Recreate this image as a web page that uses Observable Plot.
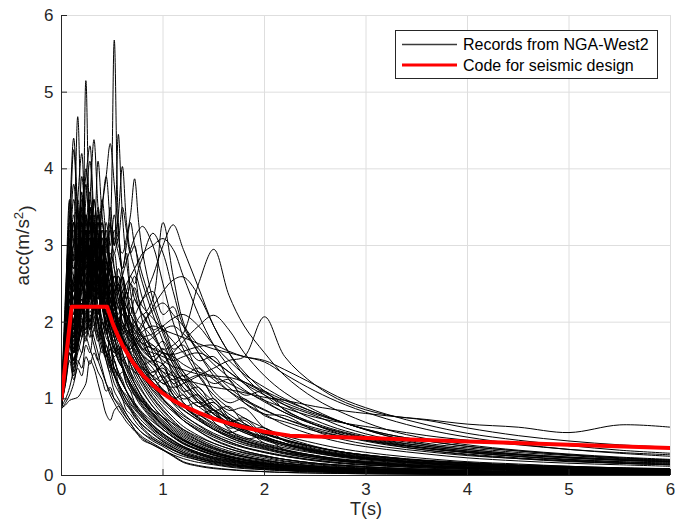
<!DOCTYPE html>
<html><head><meta charset="utf-8">
<script src="https://cdn.jsdelivr.net/npm/d3@7"></script>
<script src="https://cdn.jsdelivr.net/npm/@observablehq/plot@0.6"></script>
<style>
body{margin:0;background:#fff;}
#wrap{position:relative;width:675px;height:527px;}
#legend{position:absolute;left:395px;top:30px;}
</style></head>
<body><div id="wrap"></div>
<script>
const ticks = [0, 1, 2, 3, 4, 5, 6];
const periods = [0,0.04,0.08,0.12,0.16,0.2,0.24,0.28,0.32,0.36,
 0.4,0.44,0.48,0.52,0.56,0.6,0.64,0.68,0.72,0.76,
 0.8,0.9,1.0,1.1,1.2,1.35,1.5,1.65,1.8,2.0,
 2.2,2.5,2.8,3.2,3.6,4.0,4.5,5.0,5.5,6.0];

const codeT   = [0, 0.1, 0.45, 0.5, 0.55, 0.6, 0.7, 0.8, 0.9, 1.0, 1.1, 1.2, 1.35, 1.5, 1.65, 1.8, 2.0, 2.25, 3, 4, 5, 6];
const codeAcc = [1.0, 2.2, 2.2, 2.0, 1.84, 1.70, 1.48, 1.31, 1.18, 1.07, 0.98, 0.91, 0.82, 0.74, 0.68, 0.63, 0.57, 0.52, 0.49, 0.445, 0.40, 0.36];

const rec01 = [0.95,1.8,2.4,2.0,2.3,2.1,2.6,2.3,2.9,2.5, 3.0,2.7,3.2,5.68,3.3,2.6,2.3,2.0,1.75,1.6, 1.45,1.2,1.0,0.85,0.72,0.58,0.46,0.38,0.32,0.26, 0.21,0.16,0.13,0.1,0.08,0.065,0.05,0.04,0.035,0.03];
const rec02 = [0.9,2.0,2.9,2.8,3.4,3.0,5.15,3.3,2.9,3.4, 2.6,2.2,1.9,1.6,1.7,1.4,1.2,1.1,0.95,0.85, 0.78,0.62,0.5,0.42,0.36,0.28,0.22,0.18,0.15,0.12, 0.1,0.08,0.06,0.045,0.035,0.03,0.025,0.02,0.018,0.015];
const rec03 = [0.92,1.6,2.6,3.1,4.68,3.2,2.7,3.0,2.4,2.0, 1.9,1.6,1.4,1.2,1.1,1.0,0.85,0.8,0.72,0.65, 0.6,0.48,0.4,0.33,0.28,0.22,0.18,0.15,0.12,0.1, 0.08,0.06,0.05,0.04,0.03,0.025,0.02,0.018,0.015,0.012];
const rec04 = [0.98,1.6,2.3,1.9,2.2,2.5,2.3,2.8,2.6,3.1, 3.3,2.9,3.5,3.0,4.45,3.4,2.8,2.5,2.6,2.3, 2.0,1.6,1.3,1.1,0.95,0.8,0.66,0.55,0.48,0.4, 0.33,0.26,0.2,0.16,0.13,0.11,0.09,0.075,0.065,0.055];
const rec05 = [0.95,1.9,2.7,2.6,2.4,3.1,2.9,3.6,4.38,3.5, 3.0,2.6,2.7,2.3,2.0,1.8,1.6,1.45,1.3,1.2, 1.1,0.9,0.75,0.62,0.52,0.42,0.34,0.28,0.24,0.2, 0.16,0.12,0.1,0.08,0.065,0.05,0.04,0.035,0.03,0.025];
const rec06 = [0.9,1.5,2.1,1.8,2.1,2.4,2.2,2.7,2.5,3.0, 3.5,3.9,4.33,3.8,3.2,2.7,2.9,2.4,2.1,1.9, 1.8,1.5,1.25,1.05,0.9,0.75,0.62,0.52,0.45,0.37, 0.3,0.24,0.19,0.15,0.12,0.1,0.08,0.065,0.055,0.045];
const rec07 = [0.96,2.0,3.1,4.25,3.4,2.9,3.2,2.6,2.2,2.4, 1.8,1.5,1.3,1.1,1.0,0.9,0.8,0.72,0.66,0.6, 0.55,0.45,0.38,0.3,0.25,0.2,0.16,0.13,0.11,0.09, 0.07,0.055,0.045,0.035,0.028,0.022,0.018,0.015,0.012,0.01];
const rec08 = [0.93,1.7,2.4,2.0,2.4,2.2,2.7,2.5,2.9,2.7, 3.1,2.8,3.3,3.0,3.4,4.03,3.3,2.9,2.7,2.5, 2.3,1.9,1.6,1.35,1.15,0.95,0.8,0.68,0.58,0.48, 0.4,0.32,0.25,0.2,0.16,0.13,0.1,0.085,0.07,0.06];
const rec09 = [0.97,1.4,2.0,1.7,2.0,2.3,2.1,2.5,2.8,2.6, 2.9,3.1,2.8,3.2,3.0,2.9,3.1,3.4,3.87,3.3, 2.9,2.3,1.9,1.6,1.35,1.1,0.9,0.76,0.65,0.55, 0.46,0.37,0.3,0.24,0.19,0.16,0.13,0.11,0.09,0.08];
const rec10 = [0.95,1.4,3.58,1.9,2.4,2.8,2.3,2.0,1.8,1.6, 1.4,1.2,1.05,0.95,0.85,0.78,0.7,0.64,0.58,0.53, 0.48,0.4,0.33,0.27,0.22,0.17,0.14,0.11,0.09,0.075, 0.06,0.045,0.035,0.028,0.022,0.018,0.014,0.012,0.01,0.008];
const rec11 = [0.94,1.3,1.8,1.5,1.7,1.6,2.0,1.8,2.2,2.0, 2.3,2.1,2.5,2.2,2.4,2.6,2.3,2.5,2.4,2.2, 2.1,2.3,3.3,2.6,2.0,1.6,1.3,1.1,0.95,0.8, 0.66,0.52,0.42,0.34,0.28,0.23,0.19,0.16,0.14,0.12];
const rec12 = [0.9,1.4,1.9,1.6,1.8,2.0,1.9,2.2,2.1,2.4, 2.2,2.0,2.3,2.1,1.9,2.2,2.4,2.1,2.3,2.2, 2.3,2.6,3.0,3.27,2.95,2.45,1.95,1.6,1.3,1.05, 0.86,0.66,0.52,0.41,0.33,0.27,0.22,0.18,0.16,0.14];
const rec13 = [0.92,1.2,1.6,1.3,1.5,1.4,1.7,1.6,1.9,1.8, 2.0,1.9,2.1,2.0,1.9,2.1,2.0,2.2,2.1,2.0, 1.95,1.8,1.65,1.7,1.85,2.5,2.95,2.35,1.95,1.6, 1.3,1.0,0.8,0.6,0.48,0.4,0.33,0.28,0.24,0.21];
const rec14 = [0.95,1.2,1.5,1.25,1.4,1.3,1.55,1.45,1.6,1.5, 1.7,1.6,1.75,1.65,1.6,1.7,1.6,1.5,1.55,1.45, 1.4,1.3,1.2,1.15,1.2,1.3,1.4,1.5,1.55,2.07, 1.55,1.18,0.95,0.79,0.73,0.67,0.63,0.56,0.66,0.63];
const rec15 = [0.92,1.4,1.9,1.6,1.95,2.25,2.05,2.4,2.2,2.55, 2.35,2.15,2.3,2.1,2.0,1.9,1.82,1.75,1.7,1.62, 1.56,1.45,1.35,1.3,1.25,1.2,1.15,1.12,1.08,1.02, 0.98,0.9,0.84,0.78,0.72,0.62,0.52,0.45,0.4,0.37];
const rec16 = [0.96,1.5,2.1,1.8,2.15,2.5,2.3,2.7,2.5,2.9, 2.7,2.5,2.7,2.5,2.4,2.6,2.8,2.95,3.1,3.2, 3.25,3.0,2.5,2.0,1.65,1.3,1.05,0.88,0.75,0.62, 0.52,0.42,0.34,0.27,0.22,0.18,0.15,0.12,0.1,0.09];
const rec17 = [0.97,2.0,2.9,3.2,2.8,3.5,3.0,2.6,2.2,2.5, 1.9,1.6,1.5,1.3,1.2,1.05,0.95,0.88,0.8,0.72, 0.66,0.55,0.45,0.37,0.3,0.24,0.19,0.15,0.13,0.1, 0.085,0.065,0.05,0.04,0.032,0.026,0.02,0.017,0.014,0.012];
const rec18 = [0.92,1.9,2.8,2.7,3.3,2.9,3.8,3.1,2.7,2.3, 2.4,1.9,1.7,1.5,1.35,1.25,1.1,1.0,0.92,0.85, 0.8,0.66,0.55,0.46,0.38,0.3,0.24,0.2,0.17,0.14, 0.11,0.085,0.068,0.052,0.042,0.035,0.028,0.023,0.02,0.017];
const rec19 = [1.0,1.8,2.5,2.2,2.9,3.3,2.7,3.1,2.5,2.0, 1.8,1.9,1.5,1.3,1.15,1.0,0.92,0.85,0.76,0.7, 0.62,0.5,0.42,0.34,0.28,0.22,0.17,0.14,0.11,0.09, 0.07,0.055,0.043,0.034,0.027,0.022,0.018,0.015,0.012,0.01];
const rec20 = [0.9,1.8,2.6,2.4,2.9,3.4,2.9,3.6,3.2,2.6, 2.3,2.5,2.0,1.8,1.6,1.45,1.3,1.15,1.05,0.98, 0.9,0.74,0.6,0.5,0.42,0.34,0.27,0.22,0.18,0.15, 0.12,0.095,0.075,0.058,0.046,0.038,0.03,0.025,0.021,0.018];
const rec21 = [0.95,2.0,2.9,3.0,3.6,3.0,2.5,2.8,2.3,2.0, 1.75,1.55,1.65,1.35,1.2,1.1,1.0,0.9,0.82,0.76, 0.7,0.58,0.47,0.39,0.32,0.25,0.2,0.16,0.13,0.11, 0.09,0.07,0.055,0.043,0.035,0.028,0.023,0.019,0.016,0.013];
const rec22 = [0.93,1.8,2.5,2.3,2.6,3.1,3.4,2.9,3.3,2.8, 2.4,2.1,2.2,1.9,1.7,1.55,1.4,1.3,1.2,1.1, 1.0,0.82,0.68,0.56,0.47,0.38,0.3,0.25,0.2,0.16, 0.13,0.1,0.08,0.062,0.05,0.041,0.033,0.027,0.023,0.02];
const rec23 = [0.98,1.7,2.6,3.3,2.9,2.5,2.9,2.4,2.1,1.85, 1.65,1.5,1.35,1.4,1.2,1.05,0.95,0.86,0.78,0.71, 0.65,0.54,0.44,0.36,0.3,0.23,0.18,0.15,0.12,0.1, 0.08,0.062,0.048,0.038,0.03,0.025,0.02,0.016,0.014,0.012];
const rec24 = [0.91,1.7,2.4,2.2,2.7,2.4,3.0,3.5,2.9,3.2, 2.7,2.3,2.0,2.1,1.8,1.6,1.45,1.3,1.2,1.1, 1.02,0.85,0.7,0.58,0.48,0.38,0.31,0.25,0.21,0.17, 0.14,0.11,0.085,0.066,0.053,0.043,0.035,0.029,0.024,0.021];
const rec25 = [0.96,1.5,2.3,2.0,2.6,3.0,3.3,2.8,2.4,2.6, 2.2,1.9,1.7,1.55,1.6,1.4,1.25,1.15,1.05,0.95, 0.88,0.72,0.6,0.5,0.41,0.33,0.26,0.21,0.17,0.14, 0.11,0.088,0.07,0.054,0.043,0.035,0.028,0.023,0.019,0.016];
const rec26 = [0.89,1.7,2.3,2.0,2.5,2.9,2.6,3.2,2.8,2.5, 2.7,2.3,2.0,1.8,1.65,1.5,1.55,1.35,1.2,1.1, 1.0,0.85,0.72,0.6,0.5,0.4,0.32,0.26,0.22,0.18, 0.145,0.11,0.088,0.068,0.055,0.045,0.036,0.03,0.025,0.021];
const rec27 = [1.02,1.9,2.8,3.6,3.1,2.7,3.4,2.8,2.3,2.0, 1.8,1.6,1.45,1.3,1.2,1.1,1.0,0.93,0.86,0.8, 0.74,0.6,0.5,0.41,0.34,0.27,0.21,0.17,0.14,0.12, 0.095,0.074,0.058,0.045,0.036,0.03,0.024,0.02,0.017,0.014];
const rec28 = [0.94,1.8,2.6,2.5,3.0,3.6,3.1,2.7,3.0,2.5, 2.2,2.0,1.8,1.65,1.5,1.4,1.3,1.2,1.1,1.02, 0.95,0.8,0.66,0.55,0.46,0.37,0.29,0.24,0.2,0.16, 0.13,0.1,0.08,0.062,0.05,0.04,0.033,0.027,0.023,0.019];
const rec29 = [0.95,1.6,2.2,2.0,2.4,2.7,3.0,2.6,3.1,2.8, 2.5,2.7,2.4,2.2,2.3,2.0,1.9,1.8,1.75,1.65, 1.55,1.35,1.4,1.15,1.0,1.05,0.8,0.7,0.72,0.5, 0.42,0.33,0.25,0.2,0.16,0.13,0.11,0.09,0.078,0.068];
const rec30 = [0.9,1.5,2.1,1.8,2.2,2.5,2.3,2.8,3.2,2.9, 3.3,2.8,2.5,2.6,2.3,2.1,2.2,1.95,1.8,1.7, 1.62,1.5,1.28,1.35,1.1,0.9,0.95,0.7,0.58,0.5, 0.42,0.3,0.24,0.19,0.155,0.13,0.105,0.088,0.075,0.065];
const rec31 = [0.97,1.7,2.5,2.3,2.0,2.6,2.9,3.3,2.8,3.5, 3.0,2.6,2.3,2.1,2.2,1.9,1.75,1.6,1.55,1.45, 1.35,1.2,1.1,1.0,0.9,0.76,0.64,0.54,0.46,0.39, 0.33,0.26,0.21,0.17,0.14,0.115,0.095,0.08,0.068,0.058];
const rec32 = [0.92,1.5,2.2,1.9,2.3,2.1,2.6,2.4,2.9,3.3, 2.9,3.1,2.7,2.4,2.2,2.3,2.05,1.9,1.8,1.72, 1.65,1.7,1.45,1.25,1.3,1.05,0.85,0.9,0.68,0.55, 0.46,0.35,0.28,0.22,0.18,0.15,0.12,0.1,0.085,0.072];
const rec33 = [0.99,1.9,2.6,2.5,3.0,2.6,3.2,2.7,2.5,2.8, 2.4,2.2,2.0,2.1,1.9,1.75,1.62,1.7,1.55,1.45, 1.38,1.22,1.08,0.95,0.85,0.72,0.6,0.52,0.45,0.38, 0.32,0.25,0.2,0.16,0.13,0.11,0.09,0.075,0.064,0.055];
const rec34 = [0.9,1.45,2.0,1.7,2.0,2.4,2.8,2.5,2.3,2.7, 3.0,2.6,2.8,2.4,2.5,2.2,2.0,2.1,1.9,1.8, 1.7,1.55,1.65,1.45,1.25,1.3,1.0,0.85,0.88,0.62, 0.5,0.38,0.3,0.23,0.19,0.16,0.13,0.11,0.095,0.082];
const rec35 = [0.94,1.7,2.4,2.1,2.6,3.1,2.7,2.9,3.4,2.9, 2.5,2.3,2.5,2.2,1.95,1.8,1.7,1.58,1.5,1.42, 1.35,1.15,1.0,0.88,0.78,0.66,0.55,0.47,0.4,0.34, 0.28,0.22,0.18,0.14,0.12,0.1,0.08,0.068,0.058,0.05];
const rec36 = [0.96,1.6,2.2,1.95,2.3,2.7,2.5,3.0,2.7,2.5, 2.7,3.0,2.6,2.3,2.0,1.9,2.0,1.8,1.65,1.55, 1.5,1.3,1.45,1.2,1.25,0.95,1.0,0.75,0.6,0.62, 0.45,0.34,0.27,0.21,0.17,0.14,0.115,0.095,0.08,0.07];
const rec37 = [0.88,1.35,1.8,1.6,1.95,2.2,2.5,2.3,2.6,2.4, 2.2,2.4,2.1,1.95,2.05,1.85,1.7,1.6,1.65,1.55, 1.45,1.5,1.45,1.3,1.15,0.98,0.85,0.74,0.64,0.54, 0.46,0.37,0.3,0.24,0.2,0.17,0.14,0.12,0.1,0.088];
const rec38 = [0.95,1.8,2.6,2.3,2.8,3.3,2.9,3.5,3.0,2.7, 2.9,2.5,2.2,2.0,1.85,1.7,1.8,1.6,1.5,1.4, 1.3,1.1,0.95,0.83,0.72,0.6,0.5,0.42,0.36,0.3, 0.25,0.2,0.16,0.13,0.11,0.09,0.075,0.063,0.054,0.047];
const rec39 = [0.91,1.5,2.1,1.85,2.2,2.0,2.4,2.8,2.6,3.0, 2.8,2.5,2.7,2.9,2.5,2.3,2.1,1.95,2.0,1.85, 1.75,1.5,1.6,1.3,1.1,1.15,0.85,0.7,0.75,0.52, 0.42,0.32,0.26,0.2,0.165,0.14,0.115,0.095,0.082,0.07];
const rec40 = [0.98,1.7,2.4,2.2,2.7,2.4,2.9,3.3,3.0,2.6, 2.4,2.6,2.3,2.1,2.0,2.2,1.9,1.75,1.62,1.5, 1.42,1.28,1.12,0.98,0.86,0.72,0.6,0.5,0.43,0.36, 0.3,0.24,0.19,0.15,0.12,0.1,0.082,0.068,0.058,0.05];
const rec41 = [0.93,1.6,2.3,2.0,2.4,2.9,3.3,2.9,2.6,3.0, 3.6,3.1,2.7,2.5,2.6,2.3,2.1,1.95,1.85,1.75, 1.65,1.5,1.35,1.2,1.05,0.9,0.76,0.65,0.56,0.47, 0.4,0.32,0.26,0.2,0.165,0.14,0.115,0.095,0.08,0.07];
const rec42 = [0.9,1.45,2.0,1.75,2.1,2.5,2.3,2.7,2.5,2.8, 2.6,2.35,2.5,2.25,2.05,1.95,1.85,1.9,1.75,1.65, 1.58,1.48,1.6,1.5,1.35,1.15,0.96,0.8,0.68,0.56, 0.47,0.37,0.29,0.23,0.19,0.16,0.13,0.11,0.095,0.082];
const rec43 = [0.97,1.9,2.6,2.5,2.2,2.8,3.2,2.7,3.6,3.1, 2.7,2.4,2.2,2.0,1.85,1.7,1.6,1.5,1.42,1.35, 1.28,1.2,1.12,1.02,0.92,0.8,0.68,0.58,0.5,0.42, 0.36,0.29,0.23,0.18,0.15,0.125,0.1,0.085,0.073,0.063];
const rec44 = [0.92,1.6,2.2,1.9,2.3,2.6,3.0,2.7,2.4,2.6, 2.3,2.1,1.95,1.85,1.9,1.75,1.6,1.5,1.42,1.36, 1.3,1.15,1.25,1.0,1.05,0.8,0.85,0.62,0.66,0.48, 0.4,0.31,0.25,0.2,0.16,0.135,0.11,0.092,0.078,0.067];
const rec45 = [0.95,1.4,1.9,1.6,1.9,2.2,2.0,2.4,2.7,2.5, 2.8,2.6,2.9,2.7,2.5,2.6,2.4,2.3,2.45,2.3, 2.2,2.05,1.9,1.75,1.6,1.42,1.25,1.1,0.98,0.85, 0.74,0.62,0.52,0.42,0.35,0.3,0.25,0.21,0.18,0.16];
const rec46 = [0.9,1.3,1.7,1.45,1.7,1.95,2.2,2.0,2.3,2.1, 2.4,2.2,2.5,2.3,2.6,2.4,2.2,2.3,2.1,2.2, 2.3,2.4,2.1,2.2,1.8,1.5,1.55,1.25,1.05,1.1, 0.85,0.68,0.56,0.45,0.38,0.32,0.27,0.23,0.2,0.18];
const rec47 = [0.93,1.35,1.8,1.5,1.8,2.1,2.4,2.2,2.6,2.4, 2.2,2.5,2.3,2.1,2.0,2.2,2.0,1.85,1.95,1.8, 1.72,1.8,1.9,1.95,1.85,1.65,1.45,1.28,1.12,0.96, 0.82,0.66,0.55,0.44,0.36,0.3,0.25,0.2,0.17,0.15];
const rec48 = [0.96,1.45,2.0,1.75,2.1,1.9,2.3,2.6,2.4,2.7, 2.5,2.3,2.4,2.2,2.05,2.1,1.95,2.0,1.85,1.9, 2.0,2.15,2.25,2.1,1.95,1.7,1.5,1.35,1.22,1.08, 0.95,0.8,0.68,0.52,0.4,0.34,0.28,0.24,0.21,0.19];
const rec49 = [0.92,1.25,1.6,1.4,1.65,1.9,1.75,2.05,1.9,2.2, 2.0,1.85,2.0,1.9,1.8,1.95,1.85,1.75,1.8,1.7, 1.65,1.6,1.55,1.5,1.55,1.6,1.5,1.35,1.2,1.05, 0.92,0.78,0.62,0.48,0.4,0.34,0.28,0.24,0.21,0.18];
const rec50 = [0.98,1.5,2.1,1.8,2.2,2.5,2.3,2.8,3.1,2.7, 2.9,2.6,2.4,2.6,2.4,2.2,2.1,2.0,1.95,2.05, 2.1,1.9,1.95,1.65,1.7,1.35,1.2,1.25,0.95,0.8, 0.78,0.58,0.46,0.37,0.31,0.26,0.22,0.19,0.16,0.14];
const rec51 = [0.89,1.25,1.6,1.35,1.6,1.8,2.05,1.9,2.2,2.0, 2.25,2.1,1.95,2.1,2.0,1.85,1.9,1.8,1.7,1.75, 1.8,1.85,1.95,2.05,2.1,1.95,1.7,1.5,1.32,1.15, 1.0,0.82,0.68,0.54,0.45,0.38,0.32,0.27,0.23,0.2];
const rec52 = [0.94,1.45,1.95,1.65,2.0,2.3,2.1,2.5,2.3,2.6, 2.4,2.7,2.5,2.3,2.45,2.25,2.1,2.0,1.9,1.85, 1.8,1.7,1.6,1.55,1.45,1.35,1.3,1.28,1.22,1.1, 0.98,0.82,0.68,0.52,0.42,0.36,0.3,0.26,0.22,0.2];
const rec53 = [0.91,1.4,1.9,1.6,1.9,2.2,2.5,2.3,2.7,2.5, 2.3,2.5,2.8,2.5,2.3,2.4,2.2,2.1,2.0,1.9, 1.82,1.65,1.5,1.42,1.38,1.32,1.28,1.2,1.1,0.98, 0.88,0.76,0.68,0.6,0.52,0.46,0.4,0.34,0.3,0.27];
const rec54 = [0.97,1.6,2.2,1.85,2.2,2.6,3.0,2.7,3.2,2.8, 3.1,2.8,2.6,2.4,2.5,2.3,2.2,2.1,2.0,1.92, 1.85,1.65,1.75,1.5,1.3,1.4,1.1,0.95,1.0,0.78, 0.7,0.58,0.5,0.42,0.36,0.31,0.27,0.23,0.2,0.18];
const rec55 = [0.93,1.4,1.9,1.6,1.9,2.2,2.0,2.3,2.5,2.3, 2.6,2.4,2.2,2.4,2.5,2.3,2.4,2.6,2.5,2.7, 2.85,3.16,2.9,2.4,1.95,1.6,1.35,1.15,1.0,0.86, 0.74,0.6,0.5,0.4,0.33,0.28,0.23,0.19,0.16,0.14];
const rec56 = [0.95,1.45,1.95,1.65,1.95,2.2,2.4,2.2,2.5,2.35, 2.2,2.45,2.3,2.15,2.25,2.4,2.5,2.6,2.7,2.8, 2.9,3.0,3.09,2.95,2.6,2.1,1.7,1.42,1.2,0.98, 0.82,0.66,0.54,0.43,0.35,0.3,0.25,0.21,0.18,0.16];
const rec57 = [0.9,1.3,1.7,1.45,1.7,1.95,1.8,2.1,1.95,2.2, 2.05,1.9,2.0,1.85,1.75,1.8,1.7,1.65,1.75,1.85, 1.95,2.2,2.4,2.55,2.59,2.35,1.95,1.6,1.35,1.1, 0.92,0.72,0.58,0.46,0.38,0.32,0.27,0.23,0.2,0.17];
const rec58 = [0.94,1.35,1.8,1.5,1.8,2.05,1.85,2.15,2.0,1.85, 2.0,1.8,1.7,1.6,1.65,1.5,1.45,1.4,1.35,1.32, 1.3,1.35,1.45,1.6,1.75,1.95,2.09,1.9,1.6,1.3, 1.08,0.85,0.68,0.54,0.45,0.38,0.32,0.27,0.23,0.2];
const rec59 = [0.93,1.35,1.8,1.5,1.75,1.95,2.15,1.95,2.2,2.05, 1.9,2.05,1.9,1.8,1.85,1.75,1.7,1.65,1.72,1.8, 1.88,1.95,1.9,1.85,1.8,1.72,1.65,1.6,1.55,1.48, 1.32,1.1,0.92,0.74,0.6,0.5,0.41,0.34,0.29,0.25];
const rec60 = [0.96,1.45,1.95,1.65,1.95,2.25,2.05,2.35,2.15,2.45, 2.25,2.1,2.2,2.05,1.95,2.0,1.9,1.85,1.8,1.76, 1.72,1.65,1.6,1.58,1.62,1.68,1.7,1.62,1.55,1.5, 1.38,1.18,0.98,0.8,0.66,0.55,0.46,0.39,0.33,0.29];
const rec61 = [0.88,0.92,0.98,1.0,1.02,1.1,1.2,1.5,1.4,1.2, 1.0,0.8,0.72,0.85,0.9,0.82,0.75,0.68,0.6,0.55, 0.5,0.42,0.34,0.26,0.18,0.13,0.1,0.08,0.065,0.05, 0.04,0.032,0.026,0.02,0.016,0.013,0.011,0.009,0.008,0.007];
const rec62 = [0.9,1.0,1.15,1.4,1.7,1.9,2.1,1.9,1.7,1.5, 1.35,1.2,1.1,1.0,0.92,0.85,0.75,0.68,0.6,0.52, 0.46,0.4,0.33,0.25,0.17,0.12,0.09,0.075,0.06,0.05, 0.04,0.032,0.026,0.02,0.016,0.013,0.011,0.009,0.008,0.007];
const rec63 = [0.87,0.95,1.05,1.2,1.45,1.6,1.8,1.65,1.5,1.35, 1.25,1.1,1.15,1.0,0.95,0.88,0.8,0.72,0.66,0.6, 0.55,0.47,0.4,0.33,0.27,0.2,0.15,0.12,0.1,0.08, 0.065,0.05,0.04,0.03,0.025,0.02,0.017,0.014,0.012,0.01];
const rec64 = [0.95,2.0,2.9,2.4,3.5,2.7,3.1,2.3,2.8,2.1, 2.5,1.9,1.7,1.5,1.35,1.2,1.1,1.0,0.9,0.82, 0.76,0.62,0.52,0.43,0.36,0.28,0.22,0.18,0.15,0.12, 0.1,0.078,0.062,0.048,0.038,0.031,0.025,0.021,0.018,0.015];
const rec65 = [0.92,1.8,2.6,3.3,2.5,3.7,2.9,3.4,2.6,3.0, 2.3,2.0,2.2,1.8,1.6,1.5,1.38,1.25,1.15,1.05, 0.98,0.8,0.66,0.55,0.46,0.37,0.3,0.24,0.2,0.16, 0.13,0.1,0.08,0.062,0.05,0.041,0.033,0.027,0.023,0.02];
const rec66 = [0.97,2.2,3.3,2.7,3.0,3.9,3.2,2.7,3.3,2.6, 2.2,2.4,1.9,1.7,1.5,1.4,1.3,1.18,1.08,1.0, 0.92,0.76,0.63,0.52,0.43,0.34,0.27,0.22,0.18,0.15, 0.12,0.092,0.072,0.056,0.045,0.036,0.029,0.024,0.02,0.017];
const rec67 = [0.9,1.6,2.3,2.9,3.4,2.8,3.6,4.1,3.2,2.7, 3.0,2.5,2.2,2.0,1.85,1.7,1.58,1.45,1.35,1.25, 1.16,0.96,0.8,0.67,0.56,0.45,0.36,0.3,0.25,0.2, 0.16,0.125,0.1,0.077,0.062,0.05,0.04,0.033,0.028,0.024];
const rec68 = [0.94,1.7,2.5,3.0,2.6,3.2,2.7,3.0,3.6,3.1, 2.7,3.2,2.8,2.4,2.2,2.0,1.85,1.7,1.6,1.5, 1.4,1.18,1.0,0.85,0.72,0.58,0.47,0.39,0.32,0.26, 0.21,0.16,0.13,0.1,0.08,0.065,0.052,0.043,0.036,0.031];
const rec69 = [0.99,2.1,3.0,3.8,3.2,2.6,3.0,2.4,2.7,2.2, 1.9,1.7,1.55,1.4,1.3,1.2,1.1,1.0,0.93,0.86, 0.8,0.65,0.54,0.45,0.37,0.29,0.23,0.19,0.16,0.13, 0.1,0.08,0.064,0.05,0.04,0.032,0.026,0.022,0.018,0.016];
const rec70 = [0.93,1.5,2.1,2.6,3.1,2.6,3.0,3.4,2.9,3.3, 2.8,2.5,2.7,2.3,2.1,2.3,2.0,1.85,1.75,1.65, 1.55,1.4,1.2,1.25,0.95,0.78,0.82,0.6,0.48,0.5, 0.33,0.24,0.18,0.14,0.115,0.095,0.076,0.063,0.053,0.046];
const rec71 = [0.88,1.4,1.9,1.6,2.1,1.8,2.3,1.9,2.2,1.8, 1.6,1.7,1.45,1.3,1.2,1.1,1.05,0.95,0.88,0.82, 0.76,0.64,0.54,0.45,0.38,0.3,0.24,0.2,0.16,0.13, 0.11,0.085,0.068,0.052,0.042,0.034,0.028,0.023,0.019,0.016];
const rec72 = [0.91,1.3,1.7,2.0,1.7,2.2,1.9,2.4,2.0,1.75, 1.9,1.6,1.4,1.5,1.3,1.2,1.1,1.02,0.95,0.88, 0.82,0.7,0.6,0.5,0.42,0.33,0.27,0.22,0.18,0.15, 0.12,0.095,0.075,0.058,0.046,0.038,0.031,0.025,0.021,0.018];
const rec73 = [0.96,1.9,2.8,3.4,2.9,3.3,4.0,3.3,2.9,3.3, 2.8,2.4,2.1,2.3,2.0,1.8,1.65,1.55,1.45,1.35, 1.26,1.06,0.9,0.76,0.64,0.52,0.42,0.35,0.29,0.24, 0.19,0.15,0.12,0.092,0.074,0.06,0.048,0.04,0.034,0.029];
const rec74 = [0.92,1.6,2.4,2.0,2.8,3.1,2.6,2.9,2.4,2.7, 2.3,2.1,1.9,1.75,1.8,1.6,1.45,1.35,1.25,1.16, 1.08,0.9,0.76,0.64,0.54,0.43,0.35,0.29,0.24,0.19, 0.16,0.12,0.095,0.074,0.06,0.048,0.039,0.032,0.027,0.023];
const rec75 = [0.95,1.5,2.0,2.5,2.9,3.3,2.8,3.1,2.7,3.0, 2.6,2.8,2.4,2.2,2.0,1.9,2.0,1.85,1.7,1.6, 1.5,1.25,1.3,1.05,0.9,0.95,0.7,0.56,0.6,0.42, 0.34,0.26,0.2,0.155,0.125,0.1,0.082,0.068,0.058,0.05];
const rec76 = [0.89,1.3,1.8,2.2,1.9,2.5,2.2,2.0,2.3,1.95, 1.7,1.55,1.65,1.4,1.3,1.35,1.2,1.1,1.05,1.0, 0.95,0.85,0.76,0.68,0.6,0.5,0.42,0.35,0.3,0.25, 0.21,0.16,0.13,0.1,0.08,0.066,0.054,0.045,0.038,0.033];
const rec77 = [0.97,2.3,3.6,3.0,3.4,2.8,3.2,2.6,3.0,2.5, 2.2,2.0,1.8,1.65,1.5,1.4,1.3,1.2,1.1,1.02, 0.95,0.78,0.65,0.54,0.45,0.36,0.29,0.24,0.2,0.16, 0.13,0.1,0.08,0.062,0.05,0.04,0.033,0.027,0.023,0.019];
const rec78 = [0.93,1.7,2.7,2.2,3.0,2.5,2.8,3.3,2.7,2.4, 2.6,2.2,2.4,2.0,1.8,1.7,1.6,1.5,1.42,1.35, 1.28,1.12,0.98,0.86,0.75,0.62,0.52,0.44,0.37,0.31, 0.26,0.2,0.16,0.125,0.1,0.082,0.066,0.055,0.046,0.04];
const rec79 = [0.94,1.9,2.8,3.3,2.9,3.5,3.9,4.3,3.4,3.0, 3.2,2.6,2.3,2.1,1.9,1.75,1.6,1.5,1.4,1.3, 1.22,1.02,0.86,0.72,0.6,0.48,0.39,0.32,0.27,0.22, 0.18,0.14,0.11,0.085,0.068,0.055,0.044,0.036,0.03,0.026];
const rec80 = [0.96,2.1,3.2,2.8,3.6,4.2,3.3,3.7,3.0,3.4, 2.8,2.5,2.3,2.1,1.95,1.8,1.65,1.5,1.4,1.3, 1.2,1.0,0.84,0.7,0.58,0.46,0.37,0.3,0.25,0.2, 0.16,0.125,0.1,0.077,0.062,0.05,0.04,0.033,0.028,0.024];
const rec81 = [0.92,1.7,2.6,2.3,3.0,3.4,2.9,3.5,3.2,4.1, 3.4,3.0,3.2,2.7,2.4,2.2,2.0,1.85,1.72,1.6, 1.5,1.28,1.1,0.94,0.8,0.65,0.53,0.44,0.37,0.3, 0.25,0.19,0.15,0.12,0.095,0.078,0.062,0.05,0.043,0.037];
const rec82 = [0.95,1.6,2.3,2.0,2.5,2.8,2.5,2.9,2.7,3.1, 2.9,3.3,3.0,3.4,3.1,3.5,3.2,2.9,3.0,2.7, 2.5,2.1,1.75,1.45,1.22,0.98,0.8,0.66,0.56,0.46, 0.38,0.3,0.24,0.19,0.15,0.125,0.1,0.083,0.07,0.06];
const rec83 = [0.9,1.5,2.2,1.9,2.4,2.7,2.4,2.8,3.0,2.8, 3.2,3.0,2.8,3.1,2.9,2.7,3.0,3.3,3.0,2.8, 2.6,2.2,1.85,1.55,1.3,1.05,0.86,0.72,0.6,0.5, 0.42,0.33,0.27,0.21,0.17,0.14,0.115,0.095,0.08,0.07];
const rec84 = [0.98,2.4,3.4,4.4,3.5,3.0,3.4,2.8,3.1,2.6, 2.3,2.0,1.85,1.7,1.55,1.42,1.3,1.2,1.12,1.04, 0.96,0.8,0.66,0.55,0.46,0.36,0.29,0.24,0.2,0.16, 0.13,0.1,0.08,0.062,0.05,0.04,0.033,0.027,0.023,0.019];
const rec85 = [0.93,1.6,2.4,2.1,2.6,2.9,3.2,2.8,3.3,3.0, 3.5,3.9,3.3,2.9,3.1,2.6,2.4,2.2,2.05,1.9, 1.8,1.5,1.25,1.05,0.9,0.74,0.6,0.5,0.42,0.35, 0.29,0.22,0.18,0.14,0.11,0.09,0.072,0.06,0.05,0.043];
const rec86 = [0.91,1.5,2.1,1.8,2.2,2.5,2.2,2.6,2.4,2.7, 2.5,2.8,2.6,2.4,2.7,2.5,2.3,2.5,2.3,2.2, 2.1,1.85,1.6,1.4,1.22,1.02,0.86,0.74,0.64,0.54, 0.46,0.37,0.3,0.24,0.19,0.16,0.13,0.11,0.092,0.08];

const records = [rec01,rec02,rec03,rec04,rec05,rec06,rec07,rec08,rec09,rec10,
 rec11,rec12,rec13,rec14,rec15,rec16,rec17,rec18,rec19,rec20,
 rec21,rec22,rec23,rec24,rec25,rec26,rec27,rec28,rec29,rec30,
 rec31,rec32,rec33,rec34,rec35,rec36,rec37,rec38,rec39,rec40,
 rec41,rec42,rec43,rec44,rec45,rec46,rec47,rec48,rec49,rec50,
 rec51,rec52,rec53,rec54,rec55,rec56,rec57,rec58,rec59,rec60,
 rec61,rec62,rec63,rec64,rec65,rec66,rec67,rec68,rec69,rec70,
 rec71,rec72,rec73,rec74,rec75,rec76,rec77,rec78,rec79,rec80,
 rec81,rec82,rec83,rec84,rec85,rec86];

const recData = records.flatMap((r, k) => r.map((v, i) => ({T: periods[i], acc: v, id: k})));
const codeData = codeT.map((t, i) => ({T: t, acc: codeAcc[i]}));

const FONT = "'Liberation Sans', Arial, Helvetica, sans-serif";
const AX = "#262626";

const chart = Plot.plot({
  width: 675, height: 527,
  marginLeft: 61, marginRight: 5, marginTop: 15, marginBottom: 52,
  style: {fontFamily: FONT, fontSize: "17px", color: AX, background: "#fff", overflow: "visible"},
  x: {domain: [0, 6]},
  y: {domain: [0, 6]},
  marks: [
    Plot.gridX(ticks, {stroke: "#dedede", strokeOpacity: 1, strokeWidth: 1}),
    Plot.gridY(ticks, {stroke: "#dedede", strokeOpacity: 1, strokeWidth: 1}),
    Plot.line(recData, {x: "T", y: "acc", z: "id", stroke: "#000", strokeWidth: 1, curve: "catmull-rom", clip: true}),
    Plot.line(codeData, {x: "T", y: "acc", stroke: "#ff0000", strokeWidth: 4, strokeLinejoin: "round", clip: true}),
    Plot.ruleX([0], {stroke: AX, strokeWidth: 1}),
    Plot.ruleY([0], {stroke: AX, strokeWidth: 1}),
    Plot.axisX(ticks, {tickSize: -6, tickPadding: 13, tickFormat: d => String(d), fontSize: 17, stroke: AX, fill: AX,
      label: "T(s)", labelAnchor: "center", labelOffset: 39, labelArrow: "none"}),
    Plot.axisY(ticks, {tickSize: -6, tickPadding: 14, tickFormat: d => String(d), fontSize: 17, stroke: AX, fill: AX,
      label: "acc(m/s2)", labelAnchor: "center", labelOffset: 46, labelArrow: "none"})
  ]
});

const wrap = document.getElementById("wrap");
wrap.appendChild(chart);

// axis titles: slightly larger, with a real superscript on the y title
chart.querySelectorAll("text").forEach(t => {
  const s = t.textContent;
  if (s === "T(s)") { t.style.fontSize = "18px"; }
  if (s === "acc(m/s2)") {
    t.style.fontSize = "19px";
    t.textContent = "acc(m/s";
    const ns = "http://www.w3.org/2000/svg";
    const sup = document.createElementNS(ns, "tspan");
    sup.setAttribute("dy", "-0.45em");
    sup.setAttribute("font-size", "70%");
    sup.textContent = "2";
    const tail = document.createElementNS(ns, "tspan");
    tail.setAttribute("dy", "0.45em");
    tail.textContent = ")";
    t.appendChild(sup);
    t.appendChild(tail);
  }
});

const legend = document.createElement("div");
legend.id = "legend";
legend.innerHTML = `<svg width="264" height="50" xmlns="http://www.w3.org/2000/svg" style="font-family:${FONT};font-size:16px">
  <rect x="0.5" y="0.5" width="262" height="48" fill="#fff" stroke="${AX}" stroke-width="1"/>
  <line x1="7" x2="62" y1="14.5" y2="14.5" stroke="#3a3a3a" stroke-width="1.3"/>
  <text x="68" y="20" fill="#000">Records from NGA-West2</text>
  <line x1="7" x2="62" y1="35" y2="35" stroke="#ff0000" stroke-width="3"/>
  <text x="68" y="41" fill="#000">Code for seismic design</text>
</svg>`;
wrap.appendChild(legend);
</script>
</body></html>
